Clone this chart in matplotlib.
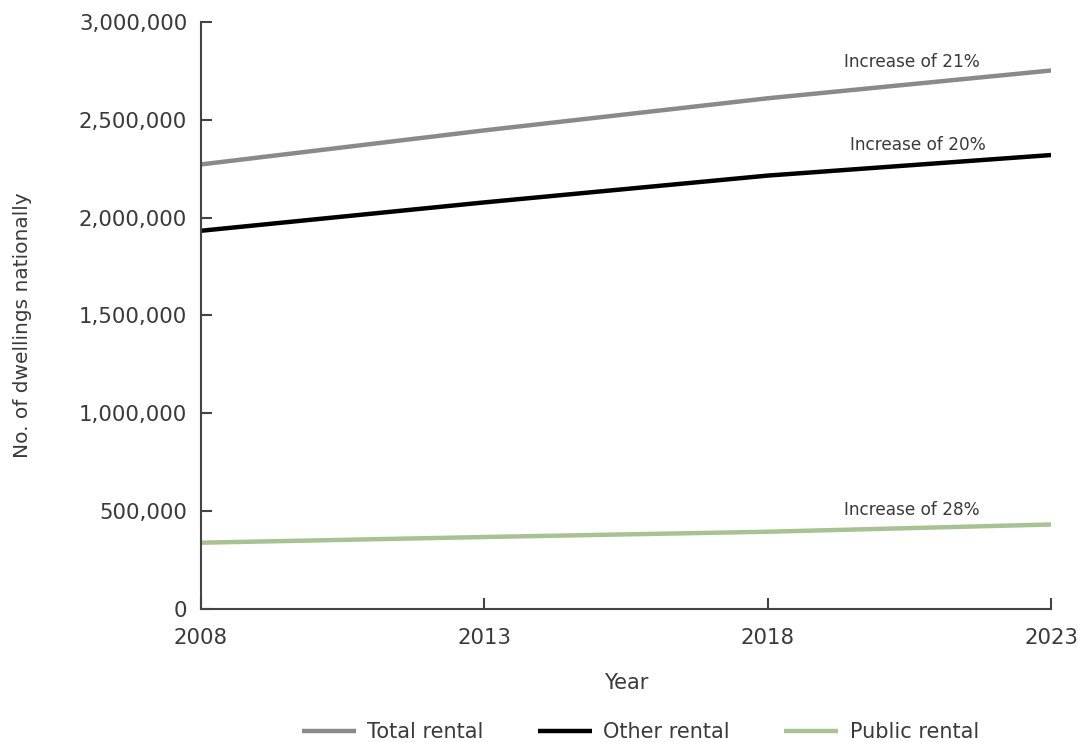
import matplotlib
matplotlib.use("Agg")
import matplotlib.pyplot as plt
from matplotlib.ticker import FuncFormatter

years = [2008, 2013, 2018, 2023]
total_rental = [2272000, 2446000, 2610000, 2752000]
other_rental = [1933000, 2078000, 2215000, 2320000]
public_rental = [339000, 368000, 395000, 432000]
series_names = ["Total rental", "Other rental", "Public rental"]
annotations = ["Increase of 21%", "Increase of 20%", "Increase of 28%"]
y_ticks = [0, 500000, 1000000, 1500000, 2000000, 2500000, 3000000]

plt.rcParams['font.family'] = ['DejaVu Sans']
text_color = "#3a3a3a"

fig = plt.figure(figsize=(10.78, 7.42), dpi=100)
ax = fig.add_axes([0.1865, 0.1792, 0.7885, 0.7912])

colors = ["#8a8a8a", "#000000", "#a9c294"]
series = [total_rental, other_rental, public_rental]
for vals, name, c in zip(series, series_names, colors):
    ax.plot(years, vals, color=c, lw=3.2, label=name, solid_capstyle='butt')

ax.set_xlim(2008, 2023)
ax.set_ylim(0, 3000000)
ax.set_xticks(years)
ax.set_yticks(y_ticks)
ax.yaxis.set_major_formatter(FuncFormatter(lambda v, p: f"{int(v):,}"))

for s in ["top", "right"]:
    ax.spines[s].set_visible(False)
for s in ["left", "bottom"]:
    ax.spines[s].set_color("#444444")
    ax.spines[s].set_linewidth(1.5)

ax.tick_params(axis='y', direction='in', length=8, width=1.5, color="#444444",
               labelsize=15.3, labelcolor=text_color, pad=10)
ax.tick_params(axis='x', direction='in', length=8, width=1.5, color="#444444",
               labelsize=15.3, labelcolor=text_color, pad=14)

ax.set_ylabel("No. of dwellings nationally", fontsize=14.5, color=text_color, labelpad=34)
ax.yaxis.label.set_y(0.484)
ax.set_xlabel("Year", fontsize=15, color=text_color, labelpad=18)

ann_pos = [(2020.55, total_rental[-1] + 43000),
           (2020.65, other_rental[-1] + 49000),
           (2020.55, public_rental[-1] + 76000)]
for txt, (x, y) in zip(annotations, ann_pos):
    ax.text(x, y, txt, fontsize=12.2, color=text_color, ha='center', va='center')

leg = fig.legend(loc='center', bbox_to_anchor=(0.594, 0.0135), ncol=3,
                 frameon=False, fontsize=15, handlelength=2.6, handletextpad=0.55,
                 columnspacing=2.6, labelcolor=text_color)

fig.savefig("out.png", dpi=100, facecolor="white")
